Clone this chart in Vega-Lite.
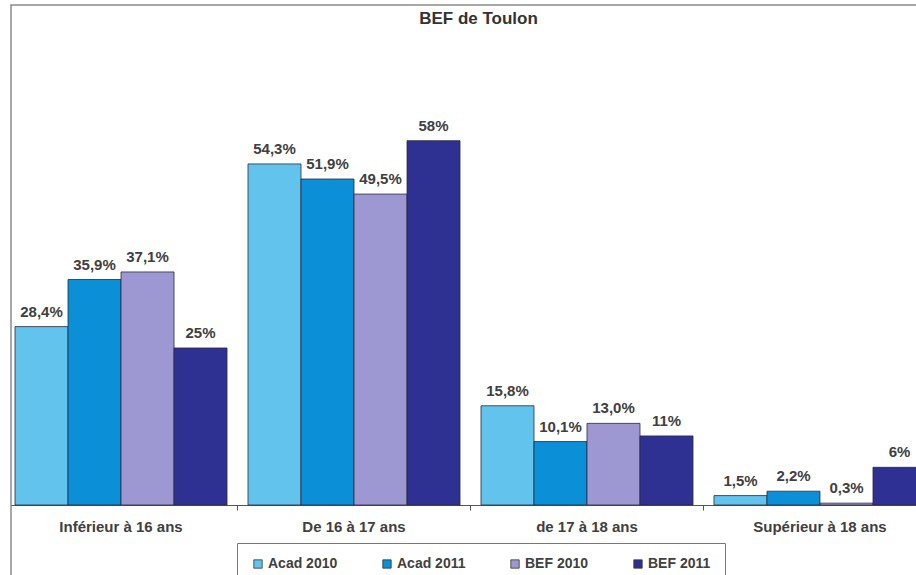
{
  "$schema": "https://vega.github.io/schema/vega-lite/v6.json",
  "autosize": {"type": "none"},
  "padding": {"left": 11, "top": 5, "right": 0, "bottom": 0},
  "width": 919,
  "height": 572,
  "background": "white",
  "config": {
    "font": "Liberation Sans",
    "view": {"stroke": "#8a8a8a", "strokeWidth": 1.5}
  },
  "title": {
    "text": "BEF de Toulon",
    "fontSize": 17,
    "fontWeight": "bold",
    "color": "#333333",
    "anchor": "middle",
    "offset": -23,
    "dx": 8
  },
  "data": {
    "values": [
      {"cat": "Inférieur à 16 ans", "serie": "Acad 2010", "v": 28.4, "lab": "28,4%"},
      {"cat": "Inférieur à 16 ans", "serie": "Acad 2011", "v": 35.9, "lab": "35,9%"},
      {"cat": "Inférieur à 16 ans", "serie": "BEF 2010", "v": 37.1, "lab": "37,1%"},
      {"cat": "Inférieur à 16 ans", "serie": "BEF 2011", "v": 25, "lab": "25%"},
      {"cat": "De 16 à 17 ans", "serie": "Acad 2010", "v": 54.3, "lab": "54,3%"},
      {"cat": "De 16 à 17 ans", "serie": "Acad 2011", "v": 51.9, "lab": "51,9%"},
      {"cat": "De 16 à 17 ans", "serie": "BEF 2010", "v": 49.5, "lab": "49,5%"},
      {"cat": "De 16 à 17 ans", "serie": "BEF 2011", "v": 58, "lab": "58%"},
      {"cat": "de 17 à 18 ans", "serie": "Acad 2010", "v": 15.8, "lab": "15,8%"},
      {"cat": "de 17 à 18 ans", "serie": "Acad 2011", "v": 10.1, "lab": "10,1%"},
      {"cat": "de 17 à 18 ans", "serie": "BEF 2010", "v": 13.0, "lab": "13,0%"},
      {"cat": "de 17 à 18 ans", "serie": "BEF 2011", "v": 11, "lab": "11%"},
      {"cat": "Supérieur à 18 ans", "serie": "Acad 2010", "v": 1.5, "lab": "1,5%"},
      {"cat": "Supérieur à 18 ans", "serie": "Acad 2011", "v": 2.2, "lab": "2,2%"},
      {"cat": "Supérieur à 18 ans", "serie": "BEF 2010", "v": 0.3, "lab": "0,3%"},
      {"cat": "Supérieur à 18 ans", "serie": "BEF 2011", "v": 6, "lab": "6%"}
    ]
  },
  "resolve": {"axis": {"x": "independent"}},
  "encoding": {
    "xOffset": {
      "field": "serie",
      "type": "nominal",
      "sort": ["Acad 2010", "Acad 2011", "BEF 2010", "BEF 2011"],
      "scale": {"paddingInner": 0, "paddingOuter": 0}
    },
    "y": {
      "field": "v",
      "type": "quantitative",
      "scale": {"domain": [-11.46, 79.6], "nice": false, "zero": false},
      "axis": null
    }
  },
  "layer": [
    {
      "mark": {"type": "bar", "stroke": "#2a2a40", "strokeWidth": 0.8},
      "encoding": {
        "x": {
          "field": "cat",
          "type": "nominal",
          "sort": null,
          "scale": {"paddingInner": 0.09, "paddingOuter": 0.0172},
          "axis": {
            "orient": "bottom",
            "title": null,
            "labelAngle": 0,
            "labelFontSize": 15,
            "labelFontWeight": "bold",
            "labelColor": "#404040",
            "labelPadding": 14,
            "ticks": false,
            "domainColor": "#555555",
            "domainWidth": 1.2,
            "offset": -72
          }
        },
        "y2": {"datum": 0},
        "color": {
          "field": "serie",
          "type": "nominal",
          "sort": ["Acad 2010", "Acad 2011", "BEF 2010", "BEF 2011"],
          "scale": {
            "domain": ["Acad 2010", "Acad 2011", "BEF 2010", "BEF 2011"],
            "range": ["#62c4ec", "#0b8fd6", "#9d98d2", "#2e3192"]
          },
          "legend": {
            "title": null,
            "orient": "none",
            "legendX": 226,
            "legendY": 538,
            "direction": "horizontal",
            "columns": 4,
            "columnPadding": 42,
            "padding": 14,
            "strokeColor": "#777777",
            "fillColor": "white",
            "symbolType": "square",
            "symbolSize": 70,
            "symbolStrokeColor": "#333333",
            "symbolStrokeWidth": 0.8,
            "labelFontSize": 14,
            "labelFontWeight": "bold",
            "labelColor": "#404040",
            "labelOffset": 3
          }
        }
      }
    },
    {
      "mark": {"type": "text", "fontSize": 15, "fontWeight": "bold", "color": "#404040", "baseline": "alphabetic", "dy": -10},
      "encoding": {
        "x": {
          "field": "cat",
          "type": "nominal",
          "sort": null,
          "scale": {"paddingInner": 0.09, "paddingOuter": 0.0172},
          "axis": {
            "orient": "bottom",
            "title": null,
            "labels": false,
            "domain": false,
            "bandPosition": 1.0495,
            "ticks": true,
            "tickSize": 5,
            "tickColor": "#555555",
            "offset": -72
          }
        },
        "text": {"field": "lab"}
      }
    }
  ]
}
